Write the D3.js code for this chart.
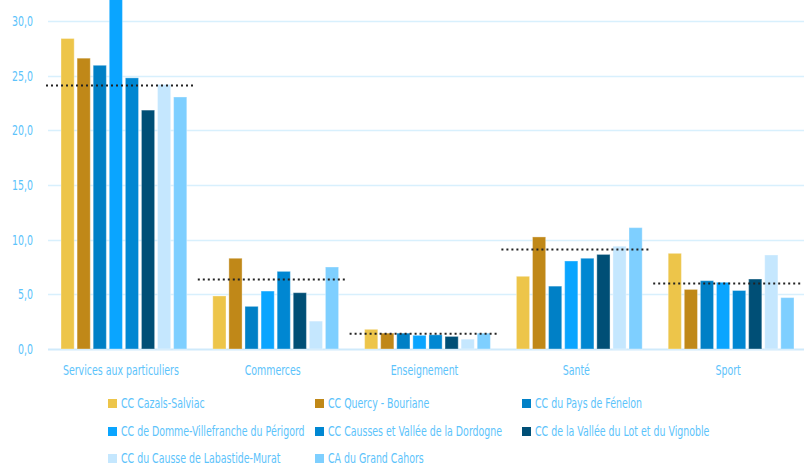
<!DOCTYPE html>
<html>
<head>
<meta charset="utf-8">
<script src="https://cdn.jsdelivr.net/npm/d3@7"></script>
<style>
  body { margin: 0; background: #fff; }
  svg { display: block; font-family: "DejaVu Sans Condensed", "Liberation Sans Narrow", "Liberation Sans", sans-serif; }
</style>
</head>
<body>
<div id="chart"></div>
<script>
const categories = ["Services aux particuliers", "Commerces", "Enseignement", "Santé", "Sport"];

const seriesNames = [
    "CC Cazals-Salviac",
    "CC Quercy - Bouriane",
    "CC du Pays de Fénelon",
    "CC de Domme-Villefranche du Périgord",
    "CC Causses et Vallée de la Dordogne",
    "CC de la Vallée du Lot et du Vignoble",
    "CC du Causse de Labastide-Murat",
    "CA du Grand Cahors"
];

// one array per series, values in category order
const cazals    = [28.4, 4.85, 1.8, 6.65, 8.75];
const quercy    = [26.6, 8.3, 1.45, 10.25, 5.45];
const fenelon   = [25.95, 3.9, 1.45, 5.75, 6.25];
const domme     = [33.0, 5.3, 1.25, 8.05, 6.1];
const causses   = [24.8, 7.1, 1.3, 8.3, 5.35];
const valleeLot = [21.85, 5.15, 1.15, 8.65, 6.4];
const labastide = [24.2, 2.55, 0.9, 9.4, 8.6];
const cahors    = [23.05, 7.5, 1.45, 11.1, 4.7];

// dotted reference line per category
const averages = [24.1, 6.35, 1.4, 9.1, 6.0];

const yTicks = [0, 5, 10, 15, 20, 25, 30];

const seriesValues = [cazals, quercy, fenelon, domme, causses, valleeLot, labastide, cahors];
const colors = ["#edc54a", "#c08818", "#0080c6", "#0aa5ff", "#0087d2", "#004f76", "#c5e7fe", "#7ecfff"];

const width = 804, height = 466;
const margin = { top: 21, right: 0, bottom: 117, left: 45 };

const svg = d3.select("#chart").append("svg")
    .attr("width", width)
    .attr("height", height);

const x0 = d3.scaleBand()
    .domain(categories)
    .range([margin.left, width - margin.right])
    .paddingInner(0)
    .paddingOuter(0);

const x1 = d3.scaleBand()
    .domain(d3.range(seriesNames.length))
    .range([16, x0.bandwidth() - 10])
    .paddingInner(0.18);

const y = d3.scaleLinear()
    .domain([0, 30])
    .range([height - margin.bottom, margin.top]);

// gridlines
svg.append("g")
    .selectAll("line")
    .data(yTicks)
    .join("line")
    .attr("x1", margin.left + 3)
    .attr("x2", width)
    .attr("y1", d => Math.round(y(d)) + 0.5)
    .attr("y2", d => Math.round(y(d)) + 0.5)
    .attr("stroke", d => d === 0 ? "#cfeafb" : "#d8f0fd")
    .attr("stroke-width", d => d === 0 ? 2 : 1.5);

// y axis labels
svg.append("g")
    .selectAll("text")
    .data(yTicks)
    .join("text")
    .attr("class", "narrow")
    .attr("x", 33)
    .attr("y", d => y(d))
    .attr("dy", "0.35em")
    .attr("text-anchor", "end")
    .attr("font-size", 14)
    .attr("fill", "#5cc3fb")
    .text(d => d3.format(".1f")(d).replace(".", ","));

// bars
const groups = svg.append("g")
    .selectAll("g")
    .data(categories)
    .join("g")
    .attr("transform", d => `translate(${x0(d)},0)`);

groups.selectAll("rect")
    .data((d, ci) => seriesValues.map((vals, si) => ({ si, v: vals[ci] })))
    .join("rect")
    .attr("x", d => x1(d.si))
    .attr("width", x1.bandwidth())
    .attr("y", d => y(d.v))
    .attr("height", d => y(0) - y(d.v))
    .attr("fill", d => colors[d.si])
    .attr("stroke", "rgba(255,255,255,0.35)")
    .attr("stroke-width", 1);

// average dotted lines
svg.append("g")
    .selectAll("line")
    .data(averages)
    .join("line")
    .attr("x1", (d, i) => x0(categories[i]) + 1)
    .attr("x2", (d, i) => x0(categories[i]) + x0.bandwidth() - 1)
    .attr("y1", d => y(d))
    .attr("y2", d => y(d))
    .attr("stroke", "#222")
    .attr("stroke-width", 2)
    .attr("stroke-dasharray", "2,3");

// x axis labels
svg.append("g")
    .selectAll("text")
    .data(categories)
    .join("text")
    .attr("class", "narrow")
    .attr("x", d => x0(d) + x0.bandwidth() / 2)
    .attr("y", 375)
    .attr("text-anchor", "middle")
    .attr("font-size", 14)
    .attr("fill", "#5cc3fb")
    .text(d => d);

// legend, 3 columns
const legendCols = [108, 315, 522];
const legendRows = [403, 431, 458];

const legend = svg.append("g")
    .selectAll("g")
    .data(seriesNames)
    .join("g")
    .attr("transform", (d, i) => `translate(${legendCols[i % 3]},${legendRows[Math.floor(i / 3)]})`);

legend.append("rect")
    .attr("x", 0)
    .attr("y", -4)
    .attr("width", 9)
    .attr("height", 9)
    .attr("fill", (d, i) => colors[i]);

legend.append("text")
    .attr("class", "narrow")
    .attr("x", 13)
    .attr("y", 0)
    .attr("dy", "0.35em")
    .attr("font-size", 14)
    .attr("fill", "#5cc3fb")
    .text(d => d);

// the original font is very condensed: squeeze text horizontally so
// "Services aux particuliers" comes out about 116px wide
const probe = svg.append("text").attr("font-size", 14).text(categories[0]);
const squeeze = 116 / probe.node().getComputedTextLength();
probe.remove();

svg.selectAll("text.narrow").each(function () {
    const ax = +this.getAttribute("x");
    d3.select(this)
        .attr("transform", `translate(${ax},0) scale(${squeeze},1) translate(${-ax},0)`);
});
</script>
</body>
</html>
